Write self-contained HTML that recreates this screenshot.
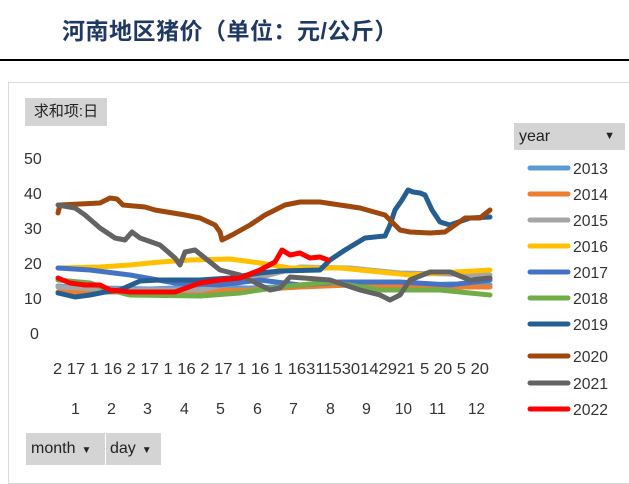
<!DOCTYPE html>
<html><head><meta charset="utf-8"><style>
body{margin:0;width:629px;height:474px;background:#fff;overflow:hidden;position:relative;font-family:"Liberation Sans Narrow","Liberation Sans",sans-serif}
.t{position:absolute;white-space:nowrap}
</style></head><body>
<div class="t" style="left:62px;top:12px;font:bold 23px 'Liberation Sans','Noto Sans CJK SC',sans-serif;color:#1f3864;letter-spacing:0.5px">河南地区猪价（单位：元/公斤）</div>
<div style="position:absolute;left:0;top:59px;width:629px;height:2px;background:#000"></div>
<div style="position:absolute;left:8px;top:82px;width:640px;height:400px;border:1px solid #d9d9d9"></div>
<div class="t" style="left:25px;top:98px;width:82px;height:28px;background:#d4d4d4;font:15px 'Liberation Sans','Noto Sans CJK SC',sans-serif;line-height:28px;text-align:center;color:#222">求和项:日</div>
<div class="t" style="left:514px;top:123px;width:111px;height:27px;background:#d4d4d4;font-size:16px;line-height:27px;color:#222"><span style="margin-left:5px">year</span><span style="position:absolute;right:10px;font-size:11px">▼</span></div>
<svg width="629" height="474" style="position:absolute;left:0;top:0" font-family="Liberation Sans, sans-serif" font-size="16" fill="#333">
<g>
<text x="24" y="164">50</text><text x="24" y="199">40</text><text x="24" y="234">30</text><text x="24" y="269">20</text><text x="24" y="304">10</text><text x="30" y="339">0</text>
</g>
<text x="53" y="374" font-size="16" textLength="436" lengthAdjust="spacingAndGlyphs">2 17 1 16 2 17 1 16 2 17 1 16 1 1631153014292​1 5 20 5 20</text>
<g font-size="16">
<text x="71" y="414">1</text><text x="107" y="414">2</text><text x="143" y="414">3</text><text x="180" y="414">4</text><text x="216" y="414">5</text><text x="253" y="414">6</text><text x="289" y="414">7</text><text x="326" y="414">8</text><text x="362" y="414">9</text><text x="395" y="414" textLength="17" lengthAdjust="spacingAndGlyphs">10</text><text x="429" y="414" textLength="17" lengthAdjust="spacingAndGlyphs">11</text><text x="468" y="414" textLength="17" lengthAdjust="spacingAndGlyphs">12</text>
</g>
<g fill="none" stroke-width="5" stroke-linejoin="round" stroke-linecap="round">
<polyline stroke="#5B9BD5" points="58,286 100,288 150,289 200,287 250,288 300,286 350,285 400,286 450,284 490,285"/>
<polyline stroke="#ED7D31" points="58,292 100,292 150,292 200,291 250,290 300,287 350,285 400,285 450,287 490,287"/>
<polyline stroke="#A5A5A5" points="58,287 120,290 200,290 250,280 300,267 350,268 400,273 450,274 490,275"/>
<polyline stroke="#FFC000" points="58,268 100,267 130,265 160,262 190,260 230,259 260,263 290,268 340,268 380,272 410,275 440,273 490,270"/>
<polyline stroke="#4472C4" points="58,268 90,270 130,275 175,283 220,285 260,280 300,285 340,282 400,282 450,285 490,280"/>
<polyline stroke="#70AD47" points="58,280 90,283 110,290 130,295 200,296 240,293 280,287 330,282 380,290 400,290 440,290 490,295"/>
<polyline stroke="#255E91" points="58,293 75,297 90,295 105,292 120,290 140,281 160,280 200,280 230,278 260,273 280,271 320,270 330,260 345,250 365,238 385,236 390,225 395,210 402,200 408,190 413,192 420,193 425,195 432,210 440,222 450,225 470,218 490,217"/>
<polyline stroke="#9E480E" points="58,213 60,205 100,203 110,198 117,199 123,205 145,207 155,210 185,215 200,218 215,225 220,232 222,240 232,235 250,225 265,215 285,205 300,202 320,202 340,205 360,208 385,215 395,225 400,230 410,232 430,233 445,232 455,225 465,218 480,218 490,210"/>
<polyline stroke="#636363" points="58,205 75,208 85,215 100,228 115,238 125,240 132,232 140,238 160,245 175,258 180,265 185,252 195,250 210,262 220,270 240,275 260,285 270,290 280,288 290,277 330,280 360,290 380,295 390,300 400,295 410,280 430,272 450,272 470,280 490,278"/>
<polyline stroke="#FF0000" points="58,278 70,283 85,285 100,285 110,290 130,292 150,292 175,292 200,283 220,280 240,278 260,270 275,262 282,250 290,255 300,253 310,258 320,257 328,260"/>
</g>
<g stroke-width="5" stroke-linecap="round" font-size="16">
<line x1="530" y1="168" x2="568" y2="168" stroke="#5B9BD5"/><text x="573" y="174" textLength="35" lengthAdjust="spacingAndGlyphs">2013</text>
<line x1="530" y1="194" x2="568" y2="194" stroke="#ED7D31"/><text x="573" y="200" textLength="35" lengthAdjust="spacingAndGlyphs">2014</text>
<line x1="530" y1="220" x2="568" y2="220" stroke="#A5A5A5"/><text x="573" y="226" textLength="35" lengthAdjust="spacingAndGlyphs">2015</text>
<line x1="530" y1="246" x2="568" y2="246" stroke="#FFC000"/><text x="573" y="252" textLength="35" lengthAdjust="spacingAndGlyphs">2016</text>
<line x1="530" y1="272" x2="568" y2="272" stroke="#4472C4"/><text x="573" y="278" textLength="35" lengthAdjust="spacingAndGlyphs">2017</text>
<line x1="530" y1="298" x2="568" y2="298" stroke="#70AD47"/><text x="573" y="304" textLength="35" lengthAdjust="spacingAndGlyphs">2018</text>
<line x1="530" y1="324" x2="568" y2="324" stroke="#255E91"/><text x="573" y="330" textLength="35" lengthAdjust="spacingAndGlyphs">2019</text>
<line x1="530" y1="356" x2="568" y2="356" stroke="#9E480E"/><text x="573" y="362" textLength="35" lengthAdjust="spacingAndGlyphs">2020</text>
<line x1="530" y1="383" x2="568" y2="383" stroke="#636363"/><text x="573" y="389" textLength="35" lengthAdjust="spacingAndGlyphs">2021</text>
<line x1="530" y1="409" x2="568" y2="409" stroke="#FF0000"/><text x="573" y="415" textLength="35" lengthAdjust="spacingAndGlyphs">2022</text>
</g>
</svg>
<div class="t" style="left:26px;top:433px;width:79px;height:32px;background:#d4d4d4;font-size:16px;line-height:32px;color:#222"><span style="margin-left:5px">month</span><span style="font-size:10px;margin-left:6px">▼</span></div>
<div class="t" style="left:106px;top:433px;width:55px;height:32px;background:#d4d4d4;font-size:16px;line-height:32px;color:#222"><span style="margin-left:4px">day</span><span style="font-size:10px;margin-left:6px">▼</span></div>
</body></html>
